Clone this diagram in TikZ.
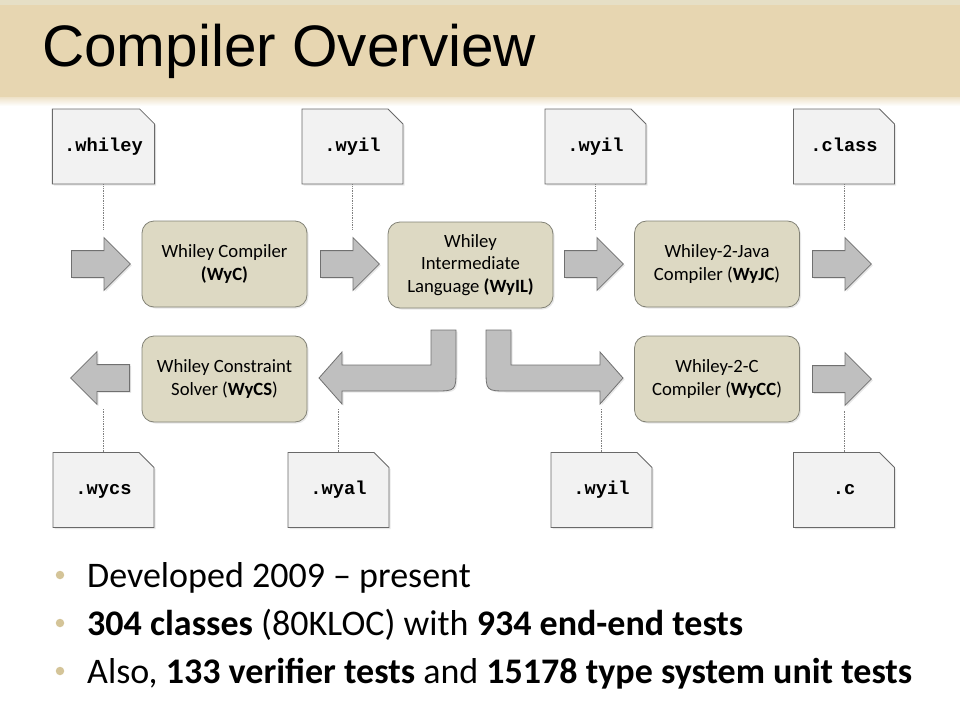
\documentclass[tikz,border=0pt]{standalone}
\usepackage{fontspec}
\setmainfont{Carlito}
\setmonofont{Liberation Mono}
\newfontfamily\titlefont{Liberation Sans}
\usetikzlibrary{shapes.arrows,shapes.misc,shadows}

\definecolor{band}{RGB}{231,214,177}
\definecolor{bandtop}{RGB}{230,223,198}
\definecolor{procfill}{RGB}{221,217,195}
\definecolor{procline}{RGB}{130,130,118}
\definecolor{filefill}{RGB}{242,242,242}
\definecolor{fileline}{RGB}{105,105,105}
\definecolor{arrfill}{RGB}{191,191,191}
\definecolor{arrline}{RGB}{112,112,112}
\definecolor{bullet}{RGB}{212,196,152}

\begin{document}
\begin{tikzpicture}[x=1pt, y=-1pt,
    proc/.style = {draw=procline, fill=procfill, line width=0.8pt,
        rounded corners=12pt, minimum width=165pt, minimum height=86pt,
        align=center, font=\fontsize{18.7}{22.4}\selectfont,
        drop shadow={opacity=0.18, shadow xshift=1.5pt, shadow yshift=-1.5pt}},
    file/.style = {chamfered rectangle, chamfered rectangle corners=north east,
        chamfered rectangle xsep=12pt, draw=fileline, fill=filefill,
        line width=0.8pt, minimum width=101pt, minimum height=75pt,
        inner xsep=0pt, text height=13pt, text depth=4pt,
        font=\ttfamily\bfseries\fontsize{18.7}{20}\selectfont,
        drop shadow={opacity=0.18, shadow xshift=1.5pt, shadow yshift=-1.5pt}},
    blockarrow/.style = {single arrow, draw=arrline, fill=arrfill,
        line width=0.8pt, inner sep=0pt, text height=26pt, text depth=0pt,
        single arrow head extend=13pt, minimum height=59pt, anchor=tail,
        drop shadow={opacity=0.18, shadow xshift=1.5pt, shadow yshift=-1.5pt}},
    bentarrow/.style = {draw=arrline, fill=arrfill, line width=0.8pt,
        drop shadow={opacity=0.18, shadow xshift=1.5pt, shadow yshift=-1.5pt}},
    leader/.style = {densely dotted, draw=gray, line width=0.7pt},
    dot/.style = {circle, fill=bullet, inner sep=0pt, minimum size=8.5pt},
    item/.style = {anchor=base west, inner sep=0pt,
        font=\fontsize{36}{43}\selectfont}]
\useasboundingbox (0,0) rectangle (960,720);

% title band
\fill[band] (0,0) rectangle (960,97);
\fill[bandtop] (0,0) rectangle (960,5);
\shade[top color=band!70, bottom color=white] (0,97) rectangle (960,106);
\node[anchor=base west, inner sep=0pt, font=\titlefont\fontsize{58.5}{62}\selectfont]
    (title) at (42,66) {Compiler Overview};

% compiler stages
\node[proc] (wyc)  at (224.5,264) {Whiley Compiler\\\textbf{(WyC)}};
\node[proc] (wyil) at (470.5,265) {Whiley\\Intermediate\\Language \textbf{(WyIL)}};
\node[proc] (wyjc) at (717,264) {Whiley-2-Java\\Compiler (\textbf{WyJC})};
\node[proc] (wycc) at (717,379) {Whiley-2-C\\Compiler (\textbf{WyCC})};
\node[proc] (wycs) at (224.5,379) {Whiley Constraint\\Solver (\textbf{WyCS})};

% files
\node[file] (fwhiley) at (103.5,146.5) {.whiley};
\node[file] (fwyila)  at (352.5,146.5) {.wyil};
\node[file] (fwyilb)  at (595.5,146.5) {.wyil};
\node[file] (fclass)  at (844,146.5) {.class};
\node[file] (fwycs)   at (103.5,490) {.wycs};
\node[file] (fwyal)   at (338.5,490) {.wyal};
\node[file] (fwyilc)  at (601.5,490) {.wyil};
\node[file] (fc)      at (844,490) {.c};

% block arrows
\node[blockarrow] (a1) at (71,264) {};
\node[blockarrow] (a2) at (320,264) {};
\node[blockarrow] (a3) at (564,264) {};
\node[blockarrow] (a4) at (812,264) {};
\node[blockarrow, shape border rotate=180] (a5) at (130,378) {};
\node[blockarrow] (a6) at (812,379) {};

\draw[bentarrow] (431,330) -- (456,330) -- (456,369) .. controls (456,391) .. (434,391)
    -- (342,391) -- (342,404) -- (319,378) -- (342,352) -- (342,365) -- (431,365) -- cycle;
\draw[bentarrow] (486,330) -- (511,330) -- (511,365) -- (600,365) -- (600,352)
    -- (623,378) -- (600,404) -- (600,391) -- (508,391) .. controls (486,391) .. (486,369) -- cycle;
\coordinate (lb) at (342,391);
\coordinate (rb) at (600,391);

% file leaders
\draw[leader, shorten >=21pt] (fwhiley.south) -- (fwhiley.south |- a1.north);
\draw[leader, shorten >=21pt] (fwyila.south) -- (fwyila.south |- a2.north);
\draw[leader, shorten >=21pt] (fwyilb.south) -- (fwyilb.south |- a3.north);
\draw[leader, shorten >=21pt] (fclass.south) -- (fclass.south |- a4.north);
\draw[leader, shorten >=17pt] (fwycs.north) -- (fwycs.north |- a5.south);
\draw[leader, shorten >=17pt] (fwyal.north) -- (fwyal.north |- lb);
\draw[leader, shorten >=17pt] (fwyilc.north) -- (fwyilc.north |- rb);
\draw[leader, shorten >=17pt] (fc.north) -- (fc.north |- a6.south);

% bullets
\node[dot] (d1) at (60,575) {};
\node[dot] (d2) at (60,623) {};
\node[dot] (d3) at (60,671) {};
\node[item] (l1) at (87,587) {Developed 2009 – present};
\node[item] (l2) at (87,635) {\textbf{304 classes} (80KLOC) with \textbf{934 end-end tests}};
\node[item] (l3) at (87,683) {Also, \textbf{133 verifier tests} and \textbf{15178 type system unit tests}};
\end{tikzpicture}
\end{document}
